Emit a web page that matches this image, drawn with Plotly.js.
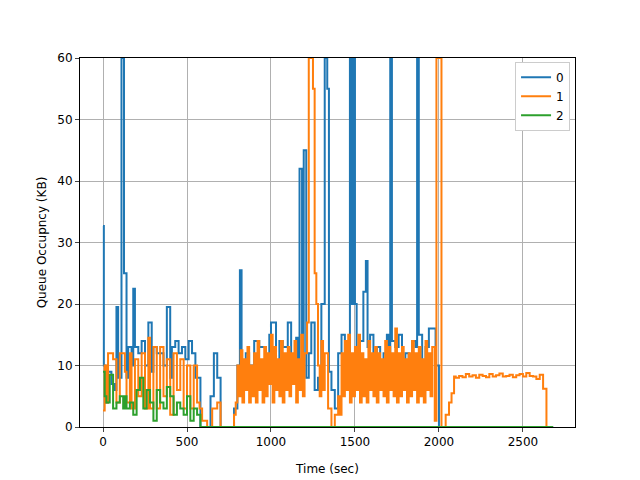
<!DOCTYPE html>
<html>
<head>
<meta charset="utf-8">
<script src="https://cdn.plot.ly/plotly-3.0.1.min.js"></script>
<style>body{margin:0}#chart{width:640px;height:480px}</style>
</head>
<body>
<div id="chart"></div>
<script>
// queue 0 (blue)
const t0 = [0,5,15,30,50,70,80,90,110,120,125,140,150,170,180,190,210,230,250,270,290,300,320,340,360,380,400,410,430,450,470,490,510,530,550,570,580,620,640,660,680,700,780,800,815,825,850,870,900,930,950,970,990,1000,1030,1050,1070,1090,1100,1120,1140,1150,1160,1170,1185,1195,1210,1225,1240,1260,1280,1300,1320,1335,1345,1360,1380,1400,1420,1440,1460,1470,1480,1490,1500,1510,1530,1550,1565,1575,1590,1610,1630,1650,1670,1690,1700,1710,1720,1740,1760,1780,1800,1820,1840,1860,1870,1880,1900,1920,1940,1960,1980,2000,2680];
const q0 = [32.7,10,4,9,7,6,19.5,8,60,60,25,8,13,10,22.5,13,12,14,10,17,9,13,12,12,10,19.5,8,13,14,12,13,11,14,12,8,8,0,0,5,12,8,0,3,10,25.5,8,12,10,14,13,13,11,15,17,10,14,13,13,17,8,10,14.5,7,42,12,45,8,12,17,6,8,20,60,55,9,6,3,12,15,9,8,60,20,60,20,8,14,22,27,13,15,8,13,10,12,15,8,60,14,13,15,10,12,9,14,13,60,15,9,13,16,16,10,0,0];

// queue 1 (orange)
const t1 = [0,10,20,30,60,80,100,130,140,160,170,190,210,230,250,270,280,300,320,340,360,380,400,420,440,460,480,500,520,540,560,575,590,620,650,680,700,780,790,800,810,820,830,840,850,860,870,880,890,900,910,920,930,940,950,960,970,980,990,1000,1010,1020,1030,1040,1050,1060,1070,1080,1090,1100,1110,1120,1130,1140,1150,1160,1170,1180,1190,1200,1215,1225,1250,1260,1270,1280,1290,1300,1310,1320,1340,1360,1380,1400,1410,1420,1430,1440,1450,1460,1470,1480,1490,1500,1510,1520,1530,1540,1550,1560,1570,1580,1590,1600,1610,1620,1630,1640,1650,1660,1670,1680,1690,1700,1710,1720,1730,1740,1750,1760,1770,1780,1790,1800,1810,1820,1830,1840,1850,1860,1870,1880,1890,1900,1910,1920,1930,1940,1950,1960,1975,1985,2005,2015,2040,2060,2075,2090,2100,2120,2140,2160,2180,2200,2220,2240,2260,2280,2300,2320,2340,2360,2380,2400,2420,2440,2460,2480,2500,2520,2540,2560,2580,2600,2620,2640,2655,2670,2680];
const q1 = [2.7,10,4,12,11,4,12,9,4,12,3,11,5,12,3,14.5,3,13,3,13,5,11,2,12,6,11,3,10,3,10,4,3,1,0,3,4,0,2,4,10,5,12.5,4,11,6,13,4,10,5,12,4,14,6,11,4,13,5,12,7,15,4,13,6,11,5,14,4,12,6,13,5,12,7,14,4,11,6,15,5,12,17,60,55,25,20,10,5,14,6,12,3,0,2,5,2,12,5,14,6,15,4,12,5,13,6,15,4,12,5,11,4,14,6,12,5,13,4,12,6,11,5,14,4,13,6,12,5,16,4,12,5,13,6,11,4,12,5,14,6,12,4,13,5,11,4,14,6,12,5,13,1,60,60,0,2,4,5.5,8.2,8,8.3,8.1,8.6,8.2,8.4,8,8.5,8.3,8.1,8.6,8.2,8.4,8.7,8.2,8.3,8.5,8.1,8.4,8.6,8.2,8.8,8.3,8.2,7.8,8.5,6.2,0,0];

// queue 2 (green)
const t2 = [0,10,20,40,60,80,100,120,130,140,160,180,200,220,240,260,280,300,320,340,360,380,400,420,440,460,480,500,520,540,560,580,2680];
const q2 = [9,5,4,8.5,3,4,5,3,5,3,4,2,6,8,3,6,4,1,6,4,3,6.5,5,2,4,3,2,5,1,3,2,0,0];

const names = ['0','1','2'];
const colors = ['#1f77b4','#ff7f0e','#2ca02c'];
const series = [[t0,q0],[t1,q1],[t2,q2]];

const data = series.map(([x,y],i) => ({
	x, y, name: names[i], type:'scatter', mode:'lines',
	line:{color:colors[i], width:2, shape:'hv'}
}));

const axis = {
	showgrid:true, gridcolor:'#b0b0b0', gridwidth:1,
	showline:true, linecolor:'#000', mirror:true,
	ticks:'outside', ticklen:4, zeroline:false,
	tickfont:{size:12}
};

const layout = {
	width:640, height:480,
	margin:{l:80, r:65, t:58, b:53},
	paper_bgcolor:'#fff', plot_bgcolor:'#fff',
	font:{family:'DejaVu Sans', color:'#000', size:12},
	showlegend:true,
	legend:{x:0.99, y:0.99, xanchor:'right', yanchor:'top', bordercolor:'#ccc', borderwidth:1, font:{size:12}},
	xaxis:Object.assign({}, axis, {range:[-137,2810], tickvals:[0,500,1000,1500,2000,2500], title:{text:'Time (sec)', font:{size:12}}}),
	yaxis:Object.assign({}, axis, {range:[0,60], dtick:10, title:{text:'Queue Occupncy (KB)', font:{size:12}}})
};

Plotly.newPlot('chart', data, layout, {displayModeBar:false});
</script>
</body>
</html>
